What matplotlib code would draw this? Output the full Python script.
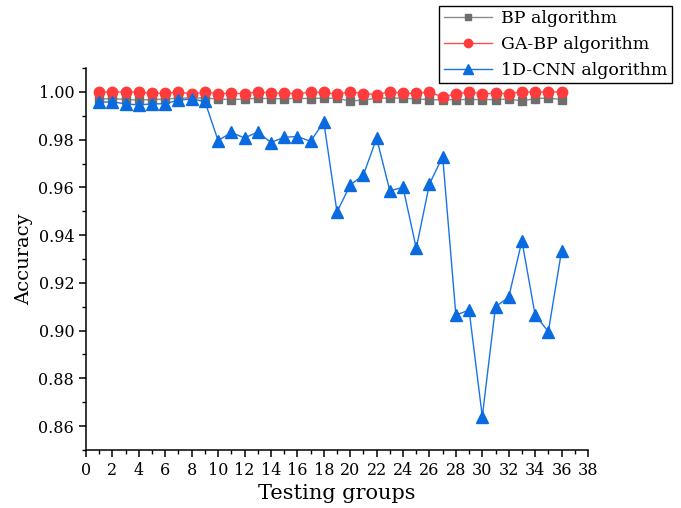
import numpy as np
import matplotlib.pyplot as plt
from matplotlib.ticker import MultipleLocator, FormatStrFormatter

plt.rcParams['font.family'] = ['DejaVu Serif']

groups = np.arange(1, 37)
bp_acc = [0.9970, 0.9972, 0.9968, 0.9966, 0.9968, 0.9970, 0.9974, 0.9975, 0.9974,
          0.9970, 0.9968, 0.9970, 0.9973, 0.9972, 0.9971, 0.9973, 0.9972, 0.9974,
          0.9973, 0.9962, 0.9966, 0.9973, 0.9974, 0.9974, 0.9970, 0.9968, 0.9966,
          0.9968, 0.9968, 0.9968, 0.9968, 0.9970, 0.9962, 0.9972, 0.9974, 0.9968]
gabp_acc = [1.0000, 1.0000, 1.0000, 0.9999, 0.9994, 0.9994, 0.9999, 0.9992, 0.9998,
            0.9993, 0.9994, 0.9993, 1.0000, 0.9996, 0.9994, 0.9993, 0.9998, 0.9998,
            0.9990, 1.0000, 0.9993, 0.9989, 1.0000, 0.9994, 0.9994, 1.0000, 0.9978,
            0.9992, 0.9999, 0.9992, 0.9994, 0.9993, 1.0000, 1.0000, 1.0000, 1.0000]
cnn_acc = [0.9957, 0.9958, 0.9950, 0.9945, 0.9950, 0.9950, 0.9966, 0.9970, 0.9960,
           0.9796, 0.9830, 0.9807, 0.9832, 0.9788, 0.9810, 0.9813, 0.9793, 0.9874,
           0.9497, 0.9610, 0.9652, 0.9806, 0.9586, 0.9600, 0.9345, 0.9614, 0.9729,
           0.9065, 0.9086, 0.8640, 0.9100, 0.9140, 0.9376, 0.9065, 0.8996, 0.9334]

fig = plt.figure(figsize=(6.81, 5.08), dpi=100)
ax = fig.add_axes([0.1263, 0.1142, 0.8634 - 0.1263, 0.8661 - 0.1142])

ax.plot(groups, bp_acc, color='#8a8a8a', lw=1.0, marker='s', ms=6,
        mfc='#6e6e6e', mec='#6e6e6e', label='BP algorithm')
ax.plot(groups, gabp_acc, color='#ff5050', lw=1.0, marker='o', ms=7.5,
        mfc='#ff3b3b', mec='#ff3b3b', label='GA-BP algorithm')
ax.plot(groups, cnn_acc, color='#1a73e8', lw=1.0, marker='^', ms=8.5,
        mfc='#0a6be0', mec='#0a6be0', label='1D-CNN algorithm')

ax.set_xlim(0, 38)
ax.set_ylim(0.85, 1.01)
ax.xaxis.set_major_locator(MultipleLocator(2))
ax.xaxis.set_minor_locator(MultipleLocator(1))
ax.yaxis.set_major_locator(MultipleLocator(0.02))
ax.yaxis.set_minor_locator(MultipleLocator(0.01))
ax.yaxis.set_major_formatter(FormatStrFormatter('%.2f'))

for side in ['top', 'right']:
    ax.spines[side].set_visible(False)
for side in ['left', 'bottom']:
    ax.spines[side].set_linewidth(1.1)

ax.tick_params(which='major', direction='out', length=5, width=1.1, labelsize=11.5)
ax.tick_params(which='minor', direction='out', length=3, width=1.0)

ax.set_xlabel('Testing groups', fontsize=15)
ax.set_ylabel('Accuracy', fontsize=14)

leg = fig.legend(loc='upper left', bbox_to_anchor=(0.645, 0.988), fontsize=12.5,
                 frameon=True, fancybox=False, edgecolor='black', framealpha=1,
                 handlelength=2.8, markerscale=0.8, borderpad=0.25,
                 labelspacing=0.5, handletextpad=0.5, borderaxespad=0)
leg.get_frame().set_linewidth(1.0)

fig.savefig('out.png', dpi=100)
